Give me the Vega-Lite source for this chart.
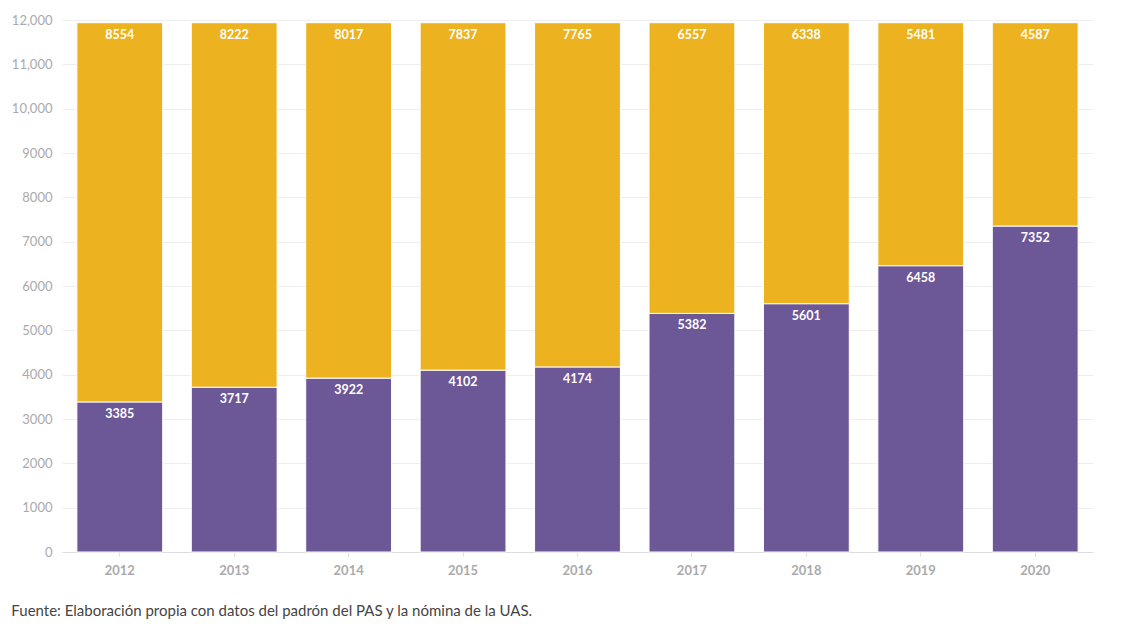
{
  "$schema": "https://vega.github.io/schema/vega-lite/v6.json",
  "width": 1031,
  "height": 532,
  "autosize": {"type": "none"},
  "padding": {"left": 62, "top": 20, "right": 29, "bottom": 78},
  "background": "white",
  "config": {
    "font": "Lato",
    "view": {"stroke": null}
  },
  "title": {
    "text": "Fuente: Elaboración propia con datos del padrón del PAS y la nómina de la UAS.",
    "orient": "bottom",
    "anchor": "start",
    "frame": "bounds",
    "offset": 27,
    "fontSize": 15,
    "fontWeight": "normal",
    "color": "#444444",
    "font": "Lato"
  },
  "data": {
    "values": [
      {"year": "2012", "grupo": "Jubilados", "orden": 1, "valor": 3385},
      {"year": "2012", "grupo": "Activos", "orden": 2, "valor": 8554},
      {"year": "2013", "grupo": "Jubilados", "orden": 1, "valor": 3717},
      {"year": "2013", "grupo": "Activos", "orden": 2, "valor": 8222},
      {"year": "2014", "grupo": "Jubilados", "orden": 1, "valor": 3922},
      {"year": "2014", "grupo": "Activos", "orden": 2, "valor": 8017},
      {"year": "2015", "grupo": "Jubilados", "orden": 1, "valor": 4102},
      {"year": "2015", "grupo": "Activos", "orden": 2, "valor": 7837},
      {"year": "2016", "grupo": "Jubilados", "orden": 1, "valor": 4174},
      {"year": "2016", "grupo": "Activos", "orden": 2, "valor": 7765},
      {"year": "2017", "grupo": "Jubilados", "orden": 1, "valor": 5382},
      {"year": "2017", "grupo": "Activos", "orden": 2, "valor": 6557},
      {"year": "2018", "grupo": "Jubilados", "orden": 1, "valor": 5601},
      {"year": "2018", "grupo": "Activos", "orden": 2, "valor": 6338},
      {"year": "2019", "grupo": "Jubilados", "orden": 1, "valor": 6458},
      {"year": "2019", "grupo": "Activos", "orden": 2, "valor": 5481},
      {"year": "2020", "grupo": "Jubilados", "orden": 1, "valor": 7352},
      {"year": "2020", "grupo": "Activos", "orden": 2, "valor": 4587}
    ]
  },
  "transform": [
    {"stack": "valor", "groupby": ["year"], "sort": [{"field": "orden", "order": "ascending"}], "as": ["v0", "v1"]}
  ],
  "encoding": {
    "x": {
      "field": "year",
      "type": "ordinal",
      "scale": {"paddingInner": 0.25, "paddingOuter": 0.13},
      "axis": {
        "title": null,
        "labelAngle": 0,
        "labelFontSize": 13,
        "labelFontWeight": "bold",
        "labelColor": "#aaaaaa",
        "labelPadding": 8,
        "domainColor": "#dddddd",
        "tickColor": "#dddddd",
        "tickSize": 4,
        "grid": false
      }
    }
  },
  "layer": [
    {
      "mark": {"type": "bar", "stroke": "white", "strokeWidth": 1},
      "encoding": {
        "y": {
          "field": "v0",
          "type": "quantitative",
          "scale": {"domain": [0, 12000], "nice": false},
          "axis": {
            "title": null,
            "values": [0, 1000, 2000, 3000, 4000, 5000, 6000, 7000, 8000, 9000, 10000, 11000, 12000],
            "labelExpr": "datum.value >= 10000 ? format(datum.value, ',') : format(datum.value, 'd')",
            "labelOverlap": false,
            "labelFontSize": 13,
            "labelColor": "#aaaaaa",
            "labelPadding": 10,
            "ticks": false,
            "domain": false,
            "gridColor": "#eeeeee"
          }
        },
        "y2": {"field": "v1"},
        "color": {
          "field": "grupo",
          "type": "nominal",
          "scale": {"domain": ["Jubilados", "Activos"], "range": ["#6c5797", "#ecb21f"]},
          "legend": null
        }
      }
    },
    {
      "mark": {"type": "text", "color": "white", "fontWeight": "bold", "fontSize": 12.5, "baseline": "middle", "dy": 12},
      "encoding": {
        "y": {"field": "v1", "type": "quantitative"},
        "text": {"field": "valor", "type": "quantitative", "format": "d"}
      }
    }
  ]
}
